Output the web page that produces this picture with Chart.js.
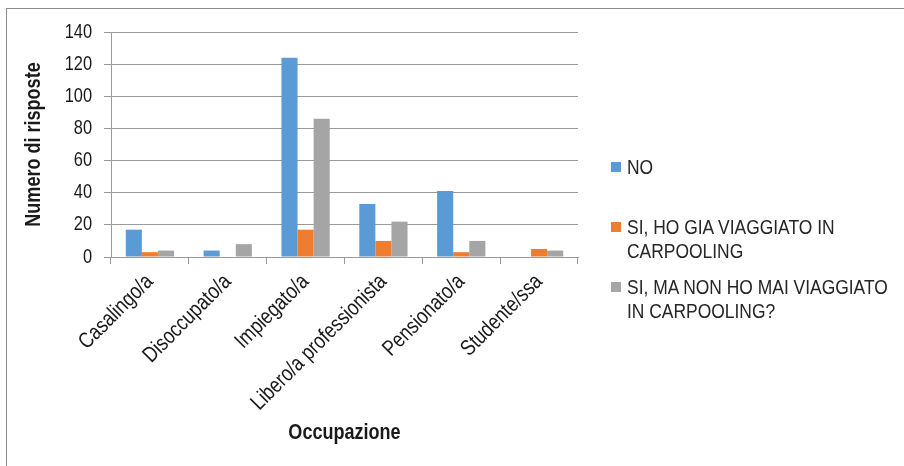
<!DOCTYPE html>
<html>
<head>
<meta charset="utf-8">
<script src="https://cdn.jsdelivr.net/npm/chart.js@4.4.1/dist/chart.umd.min.js"></script>
<style>
    html, body { margin: 0; padding: 0; background: #fff; }
    #wrap { position: relative; width: 904px; height: 466px; overflow: hidden; }
    #frame { position: absolute; left: 6px; top: 8px; width: 920px; height: 480px;
             border-left: 1px solid #8c8c8c; border-top: 1px solid #8c8c8c; }
    #chart { position: absolute; left: 0; top: 0; }
    #legend { position: absolute; left: 611px; top: 155px; width: 290px;
              font-family: 'Liberation Sans', Arial, sans-serif;
              font-size: 21px; line-height: 24px; color: #262626; }
    .item { display: flex; align-items: flex-start; height: 60px; }
    .box { width: 10px; height: 10px; margin-top: 7px; margin-right: 6px; flex: none; }
    .txt { width: 328px; flex: none; transform: scaleX(0.83); transform-origin: 0 0; }
</style>
</head>
<body>
<div id="wrap">
    <div id="frame"></div>
    <canvas id="chart" width="904" height="466"></canvas>
    <div id="legend"></div>
</div>
<script>
const categories = ['Casalingo/a', 'Disoccupato/a', 'Impiegato/a', 'Libero/a professionista', 'Pensionato/a', 'Studente/ssa'];
const seriesNames = ['NO', 'SI, HO GIA VIAGGIATO IN CARPOOLING', 'SI, MA NON HO MAI VIAGGIATO IN CARPOOLING?'];
const noValues = [17, 4, 124, 33, 41, 0];
const giaValues = [3, 0, 17, 10, 3, 5];
const maiValues = [4, 8, 86, 22, 10, 4];
const colors = ['#5B9BD5', '#ED7D31', '#A5A5A5'];

const sans = "'Liberation Sans', Arial, sans-serif";
const gridColor = '#9a9a9a';

// the original uses a narrow font (Arial Narrow); squeeze canvas text horizontally
const narrowText = {
    id: 'narrowText',
    beforeDraw(chart) {
        const ctx = chart.ctx;
        if (ctx._narrow) return;
        const orig = ctx.fillText.bind(ctx);
        ctx.fillText = function (text, x, y) {
            this.save();
            this.translate(x, y);
            this.scale(0.82, 1);
            orig(text, 0, 0);
            this.restore();
        };
        ctx._narrow = true;
    }
};

// Chart area: left 111, right 578, top 32, bottom 257
const chart = new Chart(document.getElementById('chart'), {
    type: 'bar',
    data: {
        labels: categories,
        datasets: [noValues, giaValues, maiValues].map((vals, i) => ({
            label: seriesNames[i],
            data: vals,
            backgroundColor: colors[i],
            categoryPercentage: 0.62,
            barPercentage: 1.0
        }))
    },
    options: {
        responsive: false,
        animation: false,
        devicePixelRatio: 1,
        layout: { padding: { left: 20, right: 326, top: 32, bottom: 20 } },
        plugins: {
            legend: { display: false },
            tooltip: { enabled: false }
        },
        scales: {
            x: {
                grid: { drawOnChartArea: false, drawTicks: true, tickLength: 7, color: gridColor, offset: true },
                border: { color: gridColor },
                ticks: {
                    minRotation: 45,
                    maxRotation: 45,
                    padding: 5,
                    color: '#1a1a1a',
                    font: { family: sans, size: 22 }
                },
                title: {
                    display: true,
                    text: 'Occupazione',
                    color: '#1a1a1a',
                    padding: { top: 0, bottom: 0 },
                    font: { family: sans, size: 22, weight: 'bold' }
                },
                afterFit: (scale) => { scale.height = 466 - 257 - 20; }
            },
            y: {
                min: 0,
                max: 140,
                ticks: {
                    stepSize: 20,
                    padding: 12,
                    color: '#1a1a1a',
                    font: { family: sans, size: 20 }
                },
                grid: { color: gridColor, tickLength: 7 },
                border: { color: gridColor },
                title: {
                    display: true,
                    text: 'Numero di risposte',
                    color: '#1a1a1a',
                    padding: { top: 1, bottom: 0 },
                    font: { family: sans, size: 22, weight: 'bold' }
                },
                afterFit: (scale) => { scale.width = 111 - 20; }
            }
        }
    },
    plugins: [narrowText]
});

// HTML legend built from the datasets
const legendEl = document.getElementById('legend');
chart.data.datasets.forEach(ds => {
    const item = document.createElement('div');
    item.className = 'item';
    const box = document.createElement('div');
    box.className = 'box';
    box.style.background = ds.backgroundColor;
    const txt = document.createElement('div');
    txt.className = 'txt';
    txt.textContent = ds.label;
    item.appendChild(box);
    item.appendChild(txt);
    legendEl.appendChild(item);
});
</script>
</body>
</html>
